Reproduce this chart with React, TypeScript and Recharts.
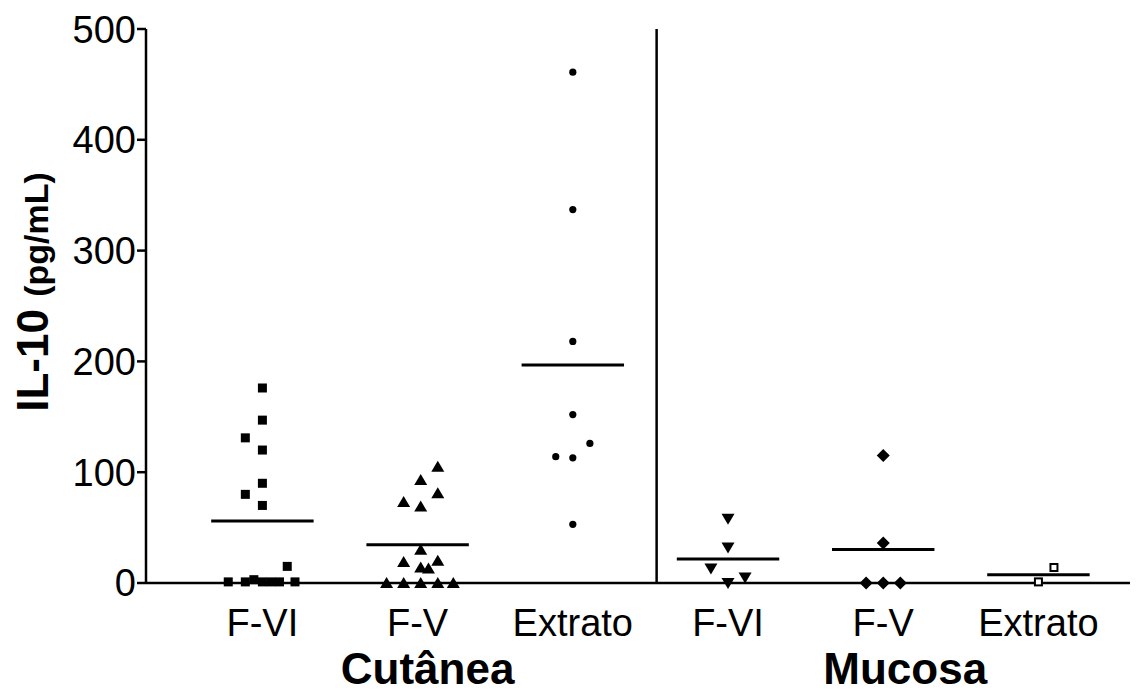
import { ScatterChart, Scatter, XAxis, YAxis, ReferenceLine, Label } from 'recharts';

// Valores (IL-10, pg/mL)
const categories = ['F-VI', 'F-V', 'Extrato', 'F-VI', 'F-V', 'Extrato'];
const groups = [
  { label: 'Cutânea', cat: 2, shift: 10 },
  { label: 'Mucosa', cat: 5, shift: 22 },
];
const yTicks = [0, 100, 200, 300, 400, 500];
const separatorPos = 3.54;

const cutFVI = [176, 147, 131, 120, 90, 80, 70, 15, 1, 1, 3, 1, 1, 1, 1];
const cutFVIJitter = [0, 0, -0.11, 0, 0, -0.11, 0, 0.16, -0.22, -0.11, -0.055, 0, 0.055, 0.11, 0.21];

const cutFV = [105, 93, 81, 73, 69, 30, 19, 20, 14, 13, 0, 0, 0, 0, 0];
const cutFVJitter = [0.13, 0.02, 0.13, -0.09, 0.02, 0.02, -0.09, 0.13, 0.02, 0.07, -0.2, -0.09, 0.02, 0.13, 0.23];

const cutExtrato = [461, 337, 218, 152, 126, 114, 113, 53];
const cutExtratoJitter = [0, 0, 0, 0, 0.11, -0.11, 0, 0];

const mucFVI = [58, 32, 13, 0, 5];
const mucFVIJitter = [0, 0, -0.11, 0, 0.11];

const mucFV = [115, 36, 0, 0, 0];
const mucFVJitter = [0, 0, -0.11, 0, 0.11];

const mucExtrato = [14, 1];
const mucExtratoJitter = [0.1, 0];

const FONT = '"Liberation Sans", Arial, sans-serif';

const square = ({ cx, cy }: any) => <rect x={cx - 4.5} y={cy - 4.5} width={9} height={9} fill="#000" />;
const triUp = ({ cx, cy }: any) => (
  <polygon points={`${cx},${cy - 6} ${cx + 6.5},${cy + 5} ${cx - 6.5},${cy + 5}`} fill="#000" />
);
const dot = ({ cx, cy }: any) => <circle cx={cx} cy={cy} r={3.6} fill="#000" />;
const triDown = ({ cx, cy }: any) => (
  <polygon points={`${cx - 6.5},${cy - 5} ${cx + 6.5},${cy - 5} ${cx},${cy + 6}`} fill="#000" />
);
const diamond = ({ cx, cy }: any) => (
  <polygon points={`${cx},${cy - 6.5} ${cx + 6.5},${cy} ${cx},${cy + 6.5} ${cx - 6.5},${cy}`} fill="#000" />
);
const openSquare = ({ cx, cy }: any) => (
  <rect x={cx - 3.5} y={cy - 3.5} width={7} height={7} fill="#fff" stroke="#000" strokeWidth={2} />
);

const series = [
  { name: 'cutFVI', cat: 1, values: cutFVI, jitter: cutFVIJitter, shape: square },
  { name: 'cutFV', cat: 2, values: cutFV, jitter: cutFVJitter, shape: triUp },
  { name: 'cutExtrato', cat: 3, values: cutExtrato, jitter: cutExtratoJitter, shape: dot },
  { name: 'mucFVI', cat: 4, values: mucFVI, jitter: mucFVIJitter, shape: triDown },
  { name: 'mucFV', cat: 5, values: mucFV, jitter: mucFVJitter, shape: diamond },
  { name: 'mucExtrato', cat: 6, values: mucExtrato, jitter: mucExtratoJitter, shape: openSquare },
];

const mean = (a: number[]) => a.reduce((s, v) => s + v, 0) / a.length;

function CatTick({ x, y, payload }: any) {
  const g = groups.find((gr) => gr.cat === payload.value);
  return (
    <g>
      <text x={x} y={y} dy="0.71em" textAnchor="middle" fontSize={38} fontFamily={FONT} fill="#000">
        {categories[payload.value - 1]}
      </text>
      {g && (
        <text x={x + g.shift} y={y + 75} textAnchor="middle" fontSize={44} fontWeight="bold" fontFamily={FONT} fill="#000">
          {g.label}
        </text>
      )}
    </g>
  );
}

function YTitle() {
  return (
    <text x={-284} y={40} transform="rotate(-90)" textAnchor="middle" fontFamily={FONT} fontWeight="bold" fill="#000">
      <tspan fontSize={44}>IL-10 </tspan>
      <tspan fontSize={34}>(pg/mL)</tspan>
    </text>
  );
}

export default function App() {
  return (
    <ScatterChart width={1124} height={687} margin={{ top: 21, right: 2, bottom: 0, left: 0 }}>
      <XAxis
        type="number"
        dataKey="x"
        domain={[0.25, 6.59]}
        ticks={[1, 2, 3, 4, 5, 6]}
        tick={<CatTick />}
        tickLine={false}
        tickSize={0}
        tickMargin={26}
        height={112}
        axisLine={{ stroke: '#000', strokeWidth: 2.5 }}
        allowDataOverflow
      />
      <YAxis
        type="number"
        dataKey="y"
        domain={[0, 500]}
        ticks={yTicks}
        width={138}
        tickSize={9}
        tickMargin={1}
        tick={{ fontSize: 38, fill: '#000', fontFamily: FONT }}
        tickLine={{ stroke: '#000', strokeWidth: 2.5 }}
        axisLine={{ stroke: '#000', strokeWidth: 2.5 }}
      >
        <Label content={<YTitle />} />
      </YAxis>
      <ReferenceLine x={separatorPos} stroke="#000" strokeWidth={2.5} />
      {series.map((s) => {
        const m = mean(s.values);
        return (
          <ReferenceLine
            key={s.name + '-mean'}
            segment={[
              { x: s.cat - 0.33, y: m },
              { x: s.cat + 0.33, y: m },
            ]}
            stroke="#000"
            strokeWidth={3}
          />
        );
      })}
      {series.map((s) => (
        <Scatter
          key={s.name}
          name={s.name}
          data={s.values.map((v, i) => ({ x: s.cat + s.jitter[i], y: v }))}
          shape={s.shape}
          isAnimationActive={false}
        />
      ))}
    </ScatterChart>
  );
}
